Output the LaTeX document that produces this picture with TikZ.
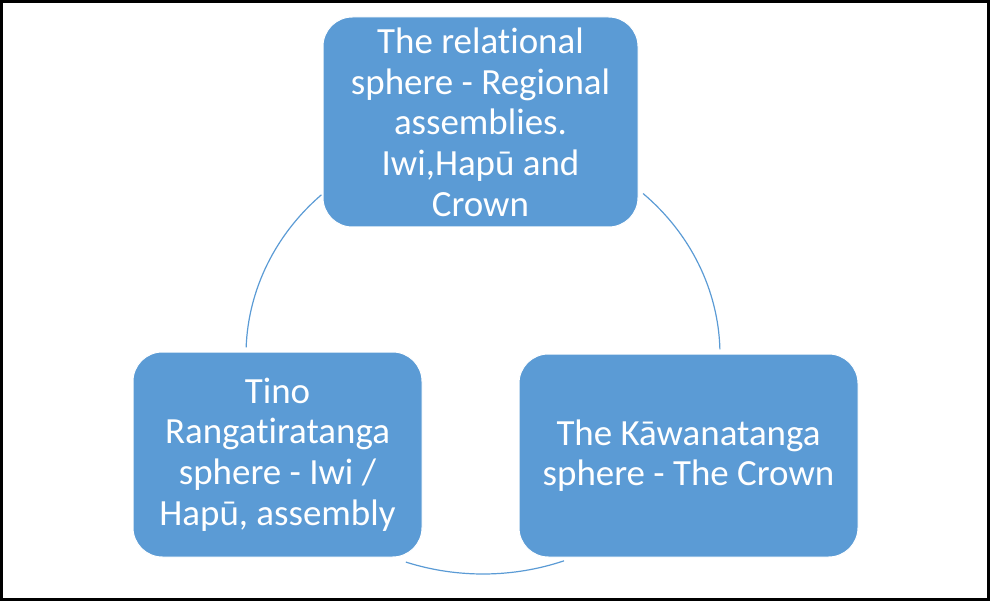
\documentclass[tikz,border=0pt]{standalone}
\usepackage{fontspec}
\setmainfont[RawFeature={-liga;-clig;-calt;-dlig}]{Carlito}
\definecolor{boxblue}{HTML}{5B9BD5}
% keep t and i as separate glyphs
\newcommand{\tsep}{t\kern0pt }
\begin{document}
\begin{tikzpicture}[x=0.75pt,y=0.75pt,
  sphere/.style={rectangle, rounded corners=22pt, fill=boxblue, draw=white,
    line width=0.75pt, text=white, align=center, inner sep=0pt,
    font=\fontsize{27.7pt}{30.5pt}\selectfont},
  link/.style={draw=boxblue, line width=0.9pt}]
  % canvas and outer frame
  \useasboundingbox (0,0) rectangle (990,601);
  \draw[line width=2pt] (1.5,1.5) rectangle (988.5,599.5);

  % the three spheres
  \node[sphere, minimum width=236.25pt, minimum height=157.5pt] (rel) at (480.5,479)
    {The relational\\sphere - Regional\\assemblies.\\Iwi,Hapū and\\Crown};
  \node[sphere, minimum width=216.75pt, minimum height=153.75pt] (tino) at (277.5,146.5)
    {Tino\\Ranga\tsep iratanga\\sphere - Iwi /\\Hapū, assembly};
  \node[sphere, minimum width=254.25pt, minimum height=152.25pt] (kaw) at (688.5,145.5)
    {The Kāwanatanga\\sphere - The Crown};

  % cycle arcs on a common ellipse
  \coordinate (ctr) at (483,246);
  \draw[link] ([shift={(133:177.75pt and 164.25pt)}]ctr)
    arc[start angle=133, end angle=178, x radius=177.75pt, y radius=164.25pt];
  \draw[link] ([shift={(47.5:177.75pt and 164.25pt)}]ctr)
    arc[start angle=47.5, end angle=1.5, x radius=177.75pt, y radius=164.25pt];
  \draw[link] ([shift={(251:177.75pt and 164.25pt)}]ctr)
    arc[start angle=251, end angle=290, x radius=177.75pt, y radius=164.25pt];
\end{tikzpicture}
\end{document}
